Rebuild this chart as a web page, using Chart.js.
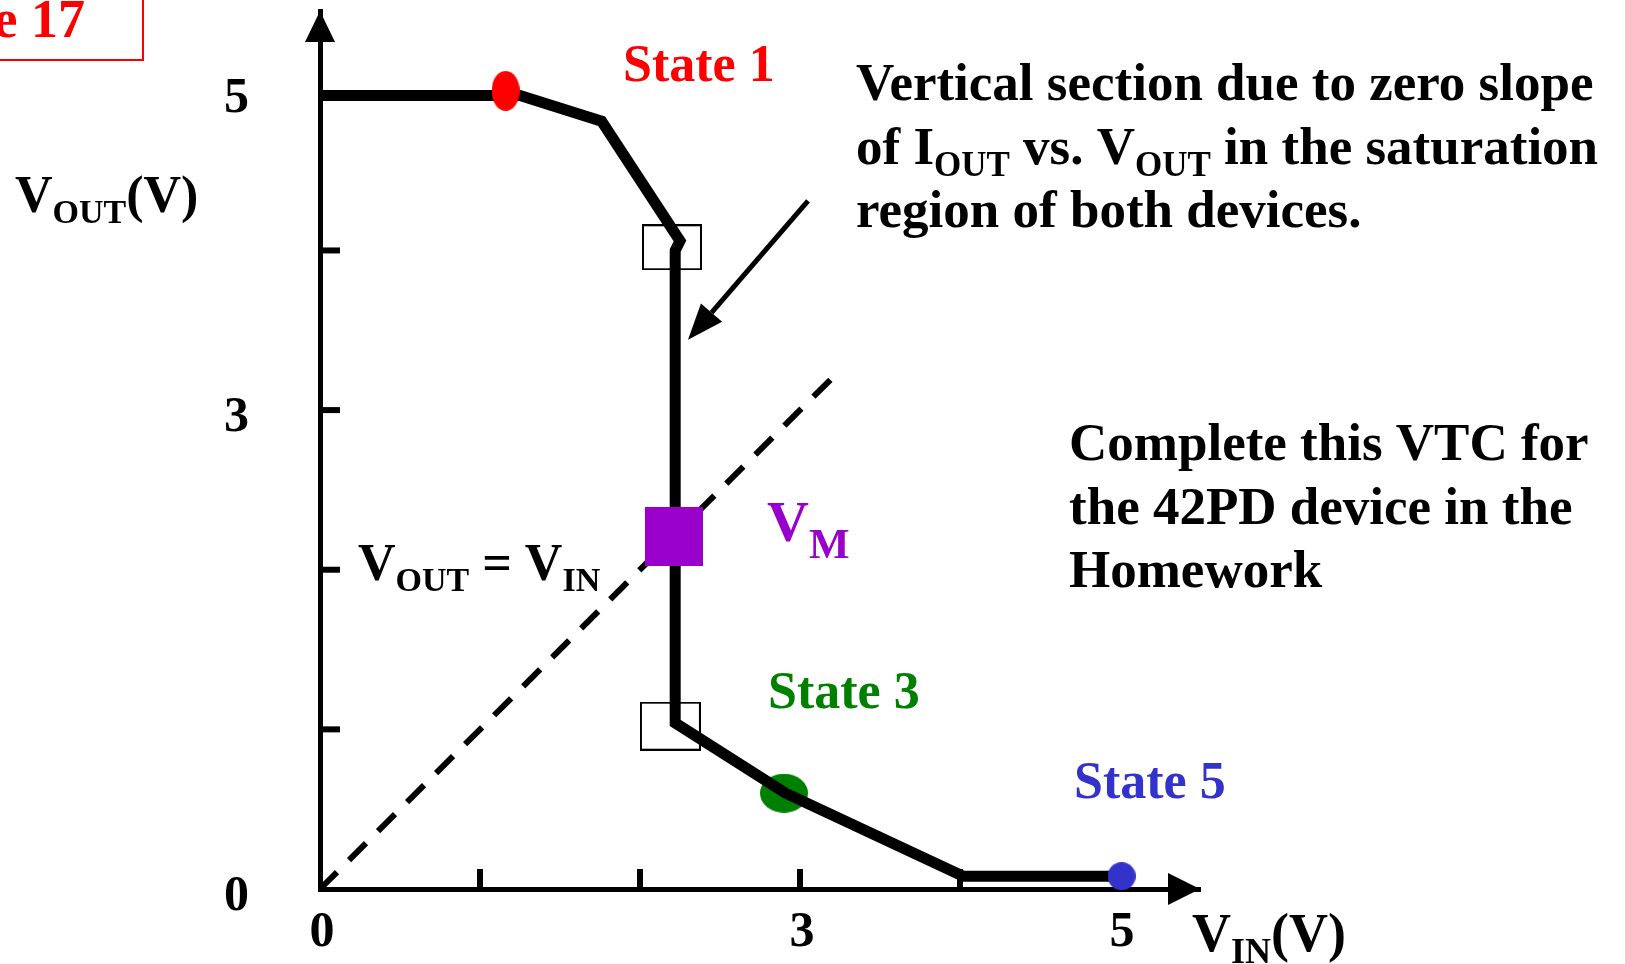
<!DOCTYPE html>
<html>
<head>
<meta charset="utf-8">
<script src="https://cdn.jsdelivr.net/npm/chart.js@4.4.1/dist/chart.umd.min.js"></script>
<style>
  html, body { margin: 0; padding: 0; background: #fff; }
  #vtc { display: block; }
</style>
</head>
<body>
<canvas id="vtc" width="1625" height="964"></canvas>
<script>
// VTC curve, Vin / Vout in volts
const vinCurve  = [0, 1.25, 1.76, 2.25, 2.22, 2.22, 2.91, 4.02, 4.99];
const voutCurve = [4.97, 4.97, 4.81, 4.06, 4.00, 1.04, 0.60, 0.08, 0.08];
// Vout = Vin reference line
const vinDiag  = [0, 3.22];
const voutDiag = [0, 3.22];
// marked points
const state1   = [1.16, 5.00];
const state3   = [2.90, 0.60];
const state5   = [5.01, 0.08];
const vmPoint  = [2.21, 2.21];
const boxUpper = [2.20, 4.02];
const boxLower = [2.19, 1.02];
// annotation arrow: tail, head
const arrowTail = [3.05, 4.31];
const arrowHead = [2.30, 3.44];
// axes
const tickMarks  = [1, 2, 3, 4];
const tickLabels = [0, 3, 5];

const serif = '"Liberation Serif", "Times New Roman", serif';

function pts(xs, ys) { return xs.map((x, i) => ({ x: x, y: ys[i] })); }

function marker(w, h, shape, fill, stroke) {
    const c = document.createElement('canvas');
    c.width = w; c.height = h;
    const g = c.getContext('2d');
    if (shape === 'ellipse') {
        g.beginPath();
        g.ellipse(w / 2, h / 2, w / 2, h / 2, 0, 0, Math.PI * 2);
        g.fillStyle = fill;
        g.fill();
    } else {
        if (fill) { g.fillStyle = fill; g.fillRect(0, 0, w, h); }
        if (stroke) { g.lineWidth = 2; g.strokeStyle = stroke; g.strokeRect(1, 1, w - 2, h - 2); }
    }
    return c;
}

function single(p, style, order) {
    return { data: [{ x: p[0], y: p[1] }], pointStyle: style, pointRadius: 10, showLine: false, order: order, clip: false };
}

// text: parts starting with "_" are subscripts
const notes = [
    { x: 623,  y: 81,  size: 52, color: '#ff0000', parts: ['State 1'] },
    { x: 768,  y: 708, size: 52, color: '#008000', parts: ['State 3'] },
    { x: 1074, y: 798, size: 52, color: '#3333cc', parts: ['State 5'] },
    { x: 767,  y: 541, size: 58, color: '#9900cc', parts: ['V', '_M'], sub: 0.74, shift: 0.3 },
    { x: 358,  y: 580, size: 52, color: '#000', parts: ['V', '_OUT', ' = V', '_IN'] },
    { x: 15,   y: 212, size: 52, color: '#000', parts: ['V', '_OUT', '(V)'] },
    { x: 1192, y: 951, size: 54, color: '#000', parts: ['V', '_IN', '(V)'] },
    { x: 856,  y: 100, size: 53, color: '#000', parts: ['Vertical section due to zero slope'] },
    { x: 856,  y: 164, size: 53, color: '#000', parts: ['of I', '_OUT', ' vs. V', '_OUT', ' in the saturation'] },
    { x: 856,  y: 227, size: 53, color: '#000', parts: ['region of both devices.'] },
    { x: 1069, y: 460, size: 53, color: '#000', parts: ['Complete this VTC for'] },
    { x: 1069, y: 524, size: 53, color: '#000', parts: ['the 42PD device in the'] },
    { x: 1069, y: 587, size: 53, color: '#000', parts: ['Homework'] }
];

function drawRich(ctx, n) {
    ctx.fillStyle = n.color;
    ctx.textBaseline = 'alphabetic';
    ctx.textAlign = 'left';
    let cx = n.x;
    n.parts.forEach(p => {
        const sub = p.startsWith('_');
        const t = sub ? p.slice(1) : p;
        const fs = sub ? Math.round(n.size * (n.sub || 0.66)) : n.size;
        ctx.font = 'bold ' + fs + 'px ' + serif;
        ctx.fillText(t, cx, sub ? n.y + n.size * (n.shift || 0.22) : n.y);
        cx += ctx.measureText(t).width;
    });
}

const decor = {
    id: 'decor',
    beforeDatasetsDraw(chart) {
        const { ctx, chartArea: a, scales: { x, y } } = chart;
        ctx.save();
        ctx.fillStyle = '#000';
        ctx.strokeStyle = '#000';
        ctx.lineWidth = 6;
        tickMarks.forEach(v => {
            const py = y.getPixelForValue(v);
            ctx.beginPath(); ctx.moveTo(a.left, py); ctx.lineTo(a.left + 20, py); ctx.stroke();
            const px = x.getPixelForValue(v);
            ctx.beginPath(); ctx.moveTo(px, a.bottom); ctx.lineTo(px, a.bottom - 20); ctx.stroke();
        });
        // axis arrowheads
        ctx.beginPath();
        ctx.moveTo(a.left, a.top); ctx.lineTo(a.left - 15, a.top + 31); ctx.lineTo(a.left + 15, a.top + 31);
        ctx.closePath(); ctx.fill();
        ctx.beginPath();
        ctx.moveTo(a.right, a.bottom); ctx.lineTo(a.right - 32, a.bottom - 16); ctx.lineTo(a.right - 32, a.bottom + 16);
        ctx.closePath(); ctx.fill();
        ctx.restore();
    },
    afterDatasetsDraw(chart) {
        const { ctx, scales: { x, y } } = chart;
        ctx.save();
        // annotation arrow
        const tx = x.getPixelForValue(arrowTail[0]), ty = y.getPixelForValue(arrowTail[1]);
        const hx = x.getPixelForValue(arrowHead[0]), hy = y.getPixelForValue(arrowHead[1]);
        const ang = Math.atan2(hy - ty, hx - tx);
        const len = 36, half = 14;
        const bx = hx - len * Math.cos(ang), by = hy - len * Math.sin(ang);
        ctx.strokeStyle = '#000'; ctx.fillStyle = '#000'; ctx.lineWidth = 5;
        ctx.beginPath(); ctx.moveTo(tx, ty); ctx.lineTo(bx, by); ctx.stroke();
        ctx.beginPath();
        ctx.moveTo(hx, hy);
        ctx.lineTo(bx + half * Math.sin(ang), by - half * Math.cos(ang));
        ctx.lineTo(bx - half * Math.sin(ang), by + half * Math.cos(ang));
        ctx.closePath(); ctx.fill();
        // slide number box
        ctx.strokeStyle = '#ff0000'; ctx.lineWidth = 2;
        ctx.strokeRect(-2, -2, 145, 62);
        ctx.fillStyle = '#ff0000';
        ctx.font = 'bold 54px ' + serif;
        ctx.textAlign = 'right'; ctx.textBaseline = 'alphabetic';
        ctx.fillText('e 17', 85, 37);
        notes.forEach(n => drawRich(ctx, n));
        ctx.restore();
    }
};

const tickFont = { family: serif, size: 50, weight: 'bold', lineHeight: 1.2 };

new Chart(document.getElementById('vtc'), {
    type: 'scatter',
    data: {
        datasets: [
            { data: pts(vinCurve, voutCurve), showLine: true, borderColor: '#000', borderWidth: 11,
              borderJoinStyle: 'miter', borderCapStyle: 'butt', pointRadius: 0, order: 2, clip: false },
            { data: pts(vinDiag, voutDiag), showLine: true, borderColor: '#000', borderWidth: 6,
              borderDash: [24, 17], pointRadius: 0, order: 4, clip: false },
            single(state3, marker(48, 39, 'ellipse', '#008000'), 3),
            single(state1, marker(28, 40, 'ellipse', '#ff0000'), 1),
            single(state5, marker(28, 28, 'ellipse', '#3333cc'), 1),
            single(vmPoint, marker(58, 59, 'rect', '#9900cc'), 1),
            single(boxUpper, marker(60, 46, 'rect', null, '#000'), 0),
            single(boxLower, marker(61, 49, 'rect', null, '#000'), 0)
        ]
    },
    options: {
        responsive: false,
        animation: false,
        events: [],
        layout: { padding: { left: 0, right: 425, top: 9, bottom: 0 } },
        plugins: { legend: { display: false }, tooltip: { enabled: false } },
        scales: {
            x: {
                type: 'linear', min: 0, max: 5.5,
                afterBuildTicks: s => { s.ticks = tickLabels.map(v => ({ value: v })); },
                afterFit: s => { s.height = 75; s.paddingLeft = 0; s.paddingRight = 0; },
                grid: { display: false },
                border: { display: true, color: '#000', width: 5 },
                ticks: { font: tickFont, color: '#000', padding: 6, maxRotation: 0, autoSkip: false, labelOffset: 2 }
            },
            y: {
                type: 'linear', min: 0, max: 5.5,
                afterBuildTicks: s => { s.ticks = tickLabels.map(v => ({ value: v })); },
                afterFit: s => { s.width = 320; s.paddingTop = 0; s.paddingBottom = 0; },
                grid: { display: false },
                border: { display: true, color: '#000', width: 5 },
                ticks: { font: tickFont, color: '#000', padding: 63, labelOffset: 8 }
            }
        }
    },
    plugins: [decor]
});
</script>
</body>
</html>
